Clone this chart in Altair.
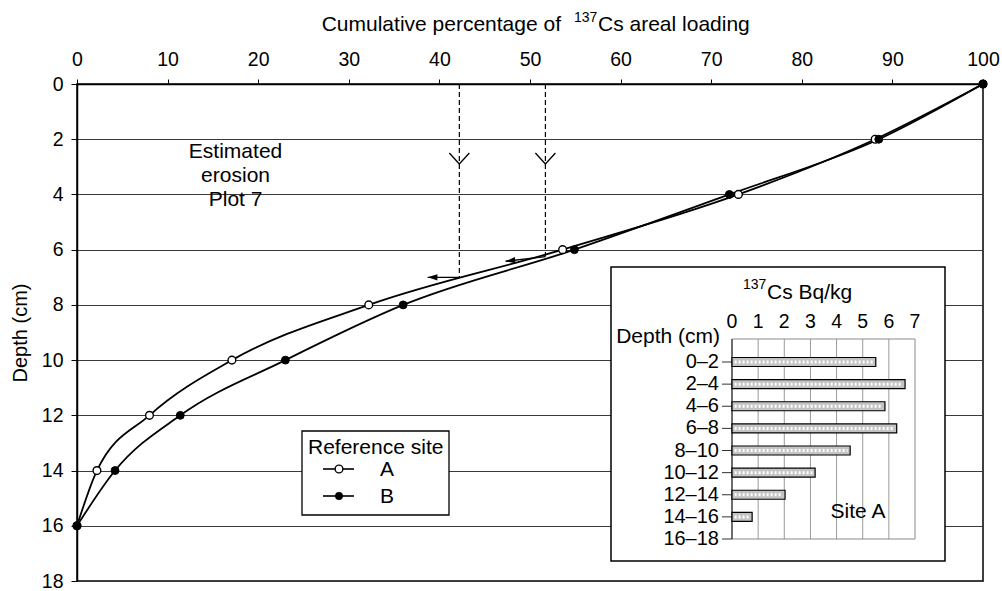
import altair as alt
import pandas as pd

FONT = "Liberation Sans"

# Cumulative 137Cs areal loading versus depth at the two reference sites
depth_cm = [0, 2, 4, 6, 8, 10, 12, 14, 16]
site_a_pct = [100, 88.1, 73.0, 53.6, 32.2, 17.1, 8.0, 2.2, 0]
site_b_pct = [100, 88.5, 72.0, 54.9, 36.0, 23.0, 11.4, 4.2, 0]

# Estimated erosion on plot 7: dashed drops and the arrows that follow the curve
erosion_pct = [42.2, 51.7]
erosion_foot_depth = [7.0, 6.25]
arrow_tip_pct = [38.7, 47.3]
arrow_tip_depth = [7.0, 6.42]
arrow_angle = [0, 353]
chevron_depth = 2.7

# Inset: 137Cs activity per depth increment at site A
inset_layers = ["0–2", "2–4", "4–6", "6–8", "8–10", "10–12", "12–14", "14–16", "16–18"]
inset_bq = [5.5, 6.62, 5.85, 6.3, 4.52, 3.18, 2.03, 0.77, 0]
inset_ticks = [0, 1, 2, 3, 4, 5, 6, 7]

profiles = pd.DataFrame(
    {
        "site": ["A"] * len(depth_cm) + ["B"] * len(depth_cm),
        "depth": depth_cm + depth_cm,
        "pct": site_a_pct + site_b_pct,
    }
)
erosion = pd.DataFrame(
    {
        "pct": erosion_pct,
        "top": [0, 0],
        "foot": erosion_foot_depth,
        "tip_pct": arrow_tip_pct,
        "tip_depth": arrow_tip_depth,
        "ang": arrow_angle,
        "chev": [chevron_depth] * 2,
    }
)
note = pd.DataFrame({"pct": [17.5], "depth": [2.45], "label": ["Estimated\nerosion\nPlot 7"]})
one = pd.DataFrame({"k": [0]})
bars = pd.DataFrame({"layer": inset_layers, "bq": inset_bq})
bars_nonzero = bars[bars["bq"] > 0]
ticks = pd.DataFrame({"bq": inset_ticks})
grid = pd.DataFrame({"bq": inset_ticks[1:-1]})

X = alt.Scale(domain=[0, 100], nice=False, zero=False)
Y = alt.Scale(domain=[0, 18], reverse=True, nice=False)

x_axis = alt.Axis(
    orient="top", values=list(range(0, 101, 10)), title=None, grid=False,
    tickSize=5, labelPadding=10, labelFontSize=19.5, labelFont=FONT, labelFlush=False,
    labelOverlap=False, labelColor="black", tickColor="black", domainColor="black", domainWidth=1.5,
)
y_axis = alt.Axis(
    values=list(range(0, 19, 2)), title=None, grid=True, gridColor="#3a3a3a",
    gridWidth=1.1, tickSize=6, labelPadding=8, labelFontSize=19.5, labelFont=FONT,
    labelFlush=False, labelOverlap=False,
    labelColor="black", tickColor="black", domainColor="black", domainWidth=1.5,
)

base = alt.Chart(profiles)
curves = base.mark_line(interpolate="monotone", color="black", strokeWidth=1.8).encode(
    x=alt.X("pct:Q", scale=X, axis=x_axis),
    y=alt.Y("depth:Q", scale=Y, axis=y_axis),
    detail="site:N",
    order="pct:Q",
)
pts_a = base.transform_filter("datum.site == 'A'").mark_point(
    shape="circle", filled=True, fill="white", stroke="black", strokeWidth=1.4, size=60, opacity=1
).encode(x="pct:Q", y="depth:Q")
pts_b = base.transform_filter("datum.site == 'B'").mark_point(
    shape="circle", filled=True, fill="black", stroke="black", strokeWidth=1, size=62, opacity=1
).encode(x="pct:Q", y="depth:Q")

er = alt.Chart(erosion)
drops = er.mark_rule(color="black", strokeDash=[5, 3], strokeWidth=1.2).encode(
    x="pct:Q", y="top:Q", y2="foot:Q"
)
arrows = er.mark_rule(color="black", strokeWidth=1.3).encode(
    x="pct:Q", y="foot:Q", x2="tip_pct:Q", y2="tip_depth:Q"
)
heads = er.mark_point(
    shape="M0,0 L1,-0.32 L1,0.32 Z", filled=True, color="black", size=380, opacity=1
).encode(x="tip_pct:Q", y="tip_depth:Q", angle=alt.Angle("ang:Q", scale=None))
chevrons = er.mark_point(
    shape="M-1,-0.55 L0,0.55 L1,-0.55", filled=False, color="black", strokeWidth=1.3, size=400, opacity=1
).encode(x="pct:Q", y="chev:Q")

note_text = alt.Chart(note).mark_text(
    font=FONT, fontSize=21, lineBreak="\n", lineHeight=24, align="center", baseline="middle", color="black"
).encode(x="pct:Q", y="depth:Q", text="label:N")

o = alt.Chart(one)
titles = [
    o.mark_text(font=FONT, fontSize=21, align="right", baseline="middle", color="black").encode(
        x=alt.value(484), y=alt.value(-59), text=alt.value("Cumulative percentage of")
    ),
    o.mark_text(font=FONT, fontSize=14, align="left", baseline="middle", color="black").encode(
        x=alt.value(497), y=alt.value(-66), text=alt.value("137")
    ),
    o.mark_text(font=FONT, fontSize=21, align="left", baseline="middle", color="black").encode(
        x=alt.value(521), y=alt.value(-59), text=alt.value("Cs areal loading")
    ),
    o.mark_text(font=FONT, fontSize=20, align="center", baseline="middle", angle=270, color="black").encode(
        x=alt.value(-56), y=alt.value(249), text=alt.value("Depth (cm)")
    ),
]

# Legend box for the reference sites
legend = [
    o.mark_rect(fill="white", stroke="black", strokeWidth=1.3).encode(
        x=alt.value(225), x2=alt.value(372), y=alt.value(347), y2=alt.value(431)
    ),
    o.mark_text(font=FONT, fontSize=21, align="left", baseline="middle", color="black").encode(
        x=alt.value(231), y=alt.value(364), text=alt.value("Reference site")
    ),
    o.mark_rule(color="black", strokeWidth=1.6).encode(x=alt.value(246), x2=alt.value(277), y=alt.value(385)),
    o.mark_rule(color="black", strokeWidth=1.6).encode(x=alt.value(246), x2=alt.value(277), y=alt.value(412)),
    o.mark_point(shape="circle", filled=True, fill="white", stroke="black", strokeWidth=1.4, size=60, opacity=1).encode(
        x=alt.value(262), y=alt.value(385)
    ),
    o.mark_point(shape="circle", filled=True, fill="black", size=62, opacity=1).encode(
        x=alt.value(262), y=alt.value(412)
    ),
    o.mark_text(font=FONT, fontSize=21, align="center", baseline="middle", color="black").encode(
        x=alt.value(310), y=alt.value(386), text=alt.value("A")
    ),
    o.mark_text(font=FONT, fontSize=21, align="center", baseline="middle", color="black").encode(
        x=alt.value(310), y=alt.value(413), text=alt.value("B")
    ),
]

main = alt.layer(curves, pts_a, pts_b, drops, arrows, heads, chevrons, note_text, *titles, *legend)

# Inset bar chart with its own scales
IX = alt.Scale(domain=[0, 7], range=[655, 838], nice=False, zero=True)
IY = alt.Scale(type="point", domain=inset_layers, range=[278, 455], padding=0)

inset = alt.layer(
    o.mark_rect(fill="white", stroke="black", strokeWidth=1.5).encode(
        x=alt.value(534), x2=alt.value(868), y=alt.value(183), y2=alt.value(477)
    ),
    alt.Chart(grid).mark_rule(color="#9a9a9a", strokeWidth=1).encode(
        x=alt.X("bq:Q", scale=IX, axis=None), y=alt.value(255), y2=alt.value(455)
    ),
    o.mark_rect(fillOpacity=0, stroke="#8a8a8a", strokeWidth=1).encode(
        x=alt.value(655), x2=alt.value(838), y=alt.value(255), y2=alt.value(455)
    ),
    o.mark_rule(color="#333333", strokeWidth=1.2).encode(x=alt.value(655), y=alt.value(255), y2=alt.value(455)),
    alt.Chart(bars).mark_rule(color="#333333", strokeWidth=1).encode(
        x=alt.value(645), x2=alt.value(655), y=alt.Y("layer:N", scale=IY, axis=None)
    ),
    alt.Chart(bars_nonzero).mark_bar(size=9, fill="#c4c4c4", stroke="black", strokeWidth=1.2).encode(
        x=alt.X("bq:Q", scale=IX, axis=None), y=alt.Y("layer:N", scale=IY, axis=None)
    ),
    alt.Chart(bars_nonzero).transform_calculate(s="0.1", e="datum.bq - 0.1").mark_rule(
        color="white", strokeWidth=3, strokeDash=[2, 2]
    ).encode(
        x=alt.X("s:Q", scale=IX, axis=None), x2="e:Q", y=alt.Y("layer:N", scale=IY, axis=None)
    ),
    alt.Chart(bars).mark_text(font=FONT, fontSize=20, align="right", baseline="middle", color="black").encode(
        x=alt.value(642), y=alt.Y("layer:N", scale=IY, axis=None), text="layer:N"
    ),
    alt.Chart(ticks).mark_text(font=FONT, fontSize=19.5, align="center", baseline="middle", color="black").encode(
        x=alt.X("bq:Q", scale=IX, axis=None), y=alt.value(238), text="bq:Q"
    ),
    o.mark_text(font=FONT, fontSize=21, align="right", baseline="middle", color="black").encode(
        x=alt.value(643), y=alt.value(253), text=alt.value("Depth (cm)")
    ),
    o.mark_text(font=FONT, fontSize=14, align="left", baseline="middle", color="black").encode(
        x=alt.value(666), y=alt.value(201), text=alt.value("137")
    ),
    o.mark_text(font=FONT, fontSize=21, align="left", baseline="middle", color="black").encode(
        x=alt.value(690), y=alt.value(209), text=alt.value("Cs Bq/kg")
    ),
    o.mark_text(font=FONT, fontSize=21, align="center", baseline="middle", color="black").encode(
        x=alt.value(781), y=alt.value(428), text=alt.value("Site A")
    ),
)

chart = (
    alt.layer(main, inset)
    .resolve_scale(x="independent", y="independent")
    .properties(
        width=906,
        height=497,
        autosize=alt.AutoSizeParams(type="none"),
        padding={"left": 77, "top": 84, "right": 19, "bottom": 10},
        background="white",
    )
    .configure_view(stroke="black", strokeWidth=1.5)
    .configure_text(font=FONT)
)

chart.save("out.html", embed_options={"renderer": "svg", "actions": False})
